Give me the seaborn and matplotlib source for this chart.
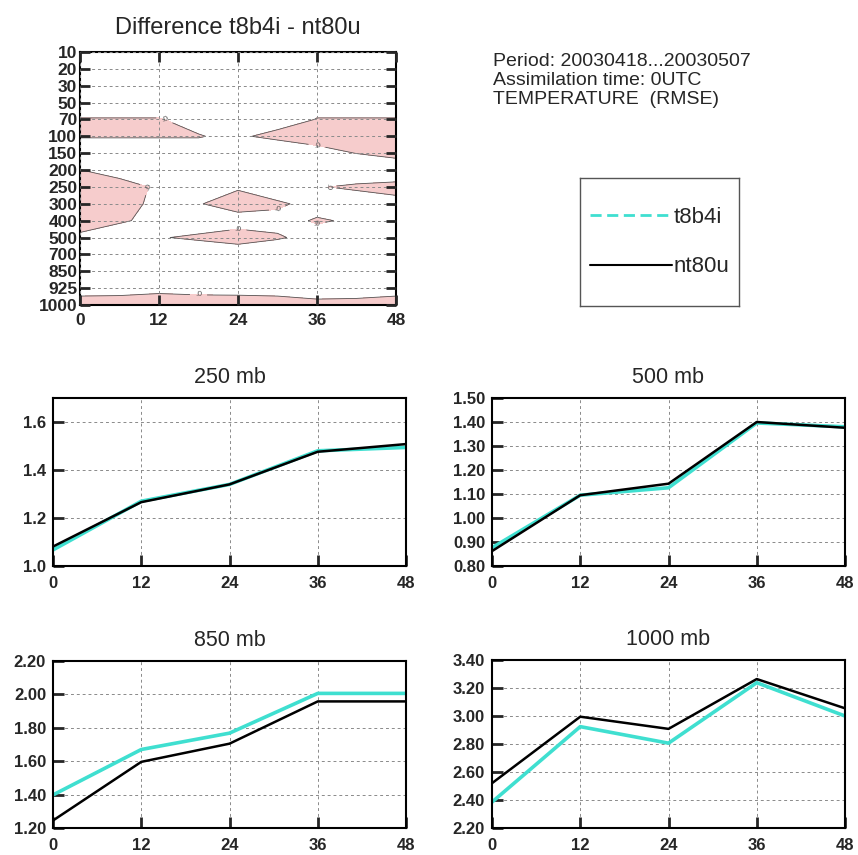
import numpy as np
import seaborn as sns
import matplotlib.pyplot as plt
from matplotlib.lines import Line2D

# forecast hours and pressure levels
hours = [0, 12, 24, 36, 48]
grid_hours = [0, 6, 12, 18, 24, 30, 36, 42, 48]
levels = ['10', '20', '30', '50', '70', '100', '150', '200', '250',
          '300', '400', '500', '700', '850', '925', '1000']

# difference field t8b4i - nt80u (rows = levels, cols = grid_hours)
diff_field = [
    [-1, -1, -1, -1, -1, -1, -1, -1, -1],
    [-1, -1, -1, -1, -1, -1, -1, -1, -1],
    [-1, -1, -1, -1, -1, -1, -1, -1, -1],
    [-1, -1, -1, -1, -1, -1, -1, -1, -1],
    [0.1, 0.1, 0.1, -0.6, -1, -1.3, 0.1, 0.1, 0.1],
    [0.1, 0.1, 0.1, 0.1, -0.45, 0.84, 1.2, 0.5, 0.5],
    [-1, -1, -1, -1, -1, -3, -1, 0.05, 0.43],
    [0.05, -1, -1, -1, -1, -1, -1, -2.34, -1],
    [1, 1, -0.37, -1, -0.125, -2.6, -0.2, 0.514, 0.43],
    [1, 1, -0.67, -0.068, 0.5, 0.61, -1.32, -1.93, -0.43],
    [1, 0.5, -1.17, -0.75, -0.5, -1.2, 0.33, -0.46, -1],
    [-0.43, -2.6, -0.078, 0.2, 0.5, 0.4, -1.32, -1, -1],
    [-1, -1, -1, -0.98, -0.75, -3, -1, -1, -1],
    [-1, -1, -1, -1, -1, -1, -1, -1, -1],
    [-0.89, -0.79, -0.47, -0.67, -0.72, -0.89, -1.86, -1.56, -0.89],
    [1, 1, 1, 1, 1, 1, 1, 1, 1],
]

# RMSE per level
t8b4i_250 = [1.067, 1.27, 1.34, 1.48, 1.494]
nt80u_250 = [1.081, 1.266, 1.34, 1.476, 1.508]
t8b4i_500 = [0.876, 1.095, 1.126, 1.396, 1.38]
nt80u_500 = [0.862, 1.095, 1.143, 1.40, 1.376]
t8b4i_850 = [1.398, 1.67, 1.768, 2.006, 2.006]
nt80u_850 = [1.245, 1.596, 1.705, 1.958, 1.958]
t8b4i_1000 = [2.385, 2.924, 2.806, 3.238, 3.0]
nt80u_1000 = [2.52, 2.995, 2.908, 3.264, 3.055]

CYAN = '#3fdfd0'
PINK = '#f6cccc'

sns.set_style('white')
plt.rcParams['font.family'] = ['Liberation Sans', 'DejaVu Sans']

W, H = 858, 855
fig = plt.figure(figsize=(W / 100, H / 100), dpi=100)


def px_axes(x0, y0, x1, y1):
    return fig.add_axes([x0 / W, 1 - y1 / H, (x1 - x0) / W, (y1 - y0) / H])


def style_frame(ax, size):
    for s in ax.spines.values():
        s.set_color('black')
        s.set_linewidth(1.5)
    ax.grid(True, color='#8a8a8a', lw=0.7, ls=(0, (3, 3)))
    for lab in ax.get_xticklabels() + ax.get_yticklabels():
        lab.set_fontweight('bold')
        lab.set_fontsize(size)


# contour panel
ax_c = px_axes(80, 52, 396, 305)
Z = np.array(diff_field)
yy = np.arange(len(levels))
ax_c.contourf(grid_hours, yy, Z, levels=[0, 100], colors=[PINK])
cs = ax_c.contour(grid_hours, yy, Z, levels=[0], colors='#555555', linewidths=0.6)
ax_c.clabel(cs, fmt={0: '.0'}, fontsize=6, inline=True)
ax_c.set_xlim(0, 48)
ax_c.set_ylim(len(levels) - 1, 0)
ax_c.set_xticks(hours)
ax_c.set_yticks(yy)
ax_c.set_yticklabels(levels)
style_frame(ax_c, 12.5)
ax_c.set_axisbelow(False)
ax_c.tick_params(direction='in', length=7, width=2,
                 left=True, right=True, top=True, bottom=True)
ax_c.tick_params(axis='y', pad=2)
ax_c.tick_params(axis='x', pad=6)
ax_c.set_title('Difference t8b4i - nt80u', fontsize=17, pad=13)

# info text
fig.text(493 / W, 1 - 53 / H,
         'Period: 20030418...20030507\nAssimilation time: 0UTC\nTEMPERATURE  (RMSE)',
         fontsize=14, va='top', ha='left', linespacing=1.15)

# legend box
ax_leg = px_axes(580, 178, 739, 306)
ax_leg.set_xticks([])
ax_leg.set_yticks([])
for s in ax_leg.spines.values():
    s.set_color('#555555')
    s.set_linewidth(1)
handles = [Line2D([], [], color=CYAN, lw=2, ls=(0, (4, 2))),
           Line2D([], [], color='black', lw=1.5)]
ax_leg.legend(handles, ['t8b4i', 'nt80u'], loc='center', frameon=False,
              fontsize=16, handlelength=3.7, handletextpad=0.05,
              labelspacing=1.3)

# line panels
panels = [
    ((53, 398, 406, 566), '250 mb', t8b4i_250, nt80u_250,
     (1.0, 1.7), [1.0, 1.2, 1.4, 1.6], '{:.1f}'),
    ((492, 398, 845, 566), '500 mb', t8b4i_500, nt80u_500,
     (0.8, 1.5), [0.8, 0.9, 1.0, 1.1, 1.2, 1.3, 1.4, 1.5], '{:.2f}'),
    ((53, 661, 406, 828), '850 mb', t8b4i_850, nt80u_850,
     (1.2, 2.2), [1.2, 1.4, 1.6, 1.8, 2.0, 2.2], '{:.2f}'),
    ((492, 660, 845, 828), '1000 mb', t8b4i_1000, nt80u_1000,
     (2.2, 3.4), [2.2, 2.4, 2.6, 2.8, 3.0, 3.2, 3.4], '{:.2f}'),
]

for box, title, exp, ref, ylim, yticks, fmt in panels:
    ax = px_axes(*box)
    sns.lineplot(x=hours, y=exp, ax=ax, color=CYAN, lw=2.6)
    sns.lineplot(x=hours, y=ref, ax=ax, color='black', lw=1.8)
    ax.set_xlim(0, 48)
    ax.set_ylim(*ylim)
    ax.set_xticks(hours)
    ax.set_yticks(yticks)
    ax.set_yticklabels([fmt.format(v) for v in yticks])
    style_frame(ax, 12)
    ax.set_axisbelow(True)
    ax.tick_params(direction='in', length=8, width=2, left=True, bottom=True)
    ax.tick_params(axis='y', pad=5)
    ax.tick_params(axis='x', pad=7)
    ax.set_title(title, fontsize=15.5, pad=11)

fig.savefig('out.png', dpi=100)
